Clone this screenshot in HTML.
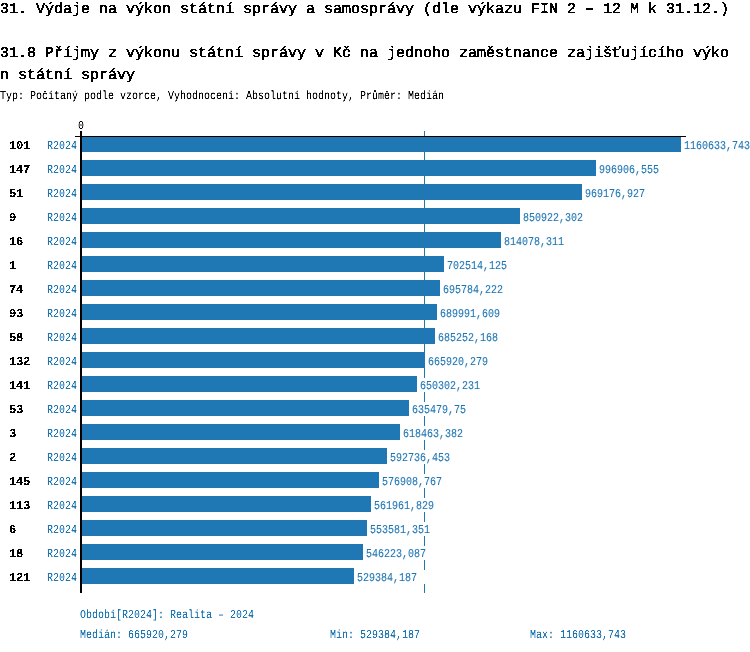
<!DOCTYPE html>
<html><head><meta charset="utf-8"><style>
html,body{margin:0;padding:0;background:#fff;width:750px;height:652px;overflow:hidden;position:relative}
body{font-family:"Liberation Mono",monospace;color:#000;text-rendering:geometricPrecision}
.w{position:absolute;left:0;top:0;width:750px;height:652px}
.wt{filter:url(#ft)}
.ws{filter:url(#fs)}
.wb{filter:url(#fb)}
.t{position:absolute;left:0;white-space:pre;font-weight:normal;-webkit-text-stroke:0.6px #000;font-size:15px;line-height:16px}
.sm{position:absolute;white-space:pre;font-size:12px;line-height:16px;transform:scaleX(0.83333);transform-origin:0 0;-webkit-text-stroke:0.1px currentColor}
.s{left:0}
.bar{position:absolute;left:80px;height:16px;background:#1f77b4}
.num{position:absolute;left:9px;font-weight:bold;font-size:12px;line-height:16px;white-space:pre;letter-spacing:-0.2px}
.per{left:47px;color:#1f77b4}
.val{color:#1f77b4;background:#fff;height:14px;padding-right:10px}
.axv{position:absolute;left:80px;top:131px;width:2px;height:462px;background:#000}
.axh{position:absolute;left:75px;top:136px;width:611px;height:1px;background:#000}
.med{position:absolute;left:424px;top:131px;width:1px;height:462px;background:#1f77b4}
.f{color:#1f77b4}
</style></head><body>
<svg width="0" height="0" style="position:absolute">
<filter id="ft" x="0" y="0" width="100%" height="100%"><feComponentTransfer><feFuncA type="discrete" tableValues="0 0 0 1 1"/></feComponentTransfer></filter>
<filter id="fs" x="0" y="0" width="100%" height="100%"><feComponentTransfer><feFuncA type="table" tableValues="0 0 0.5 1 1"/></feComponentTransfer></filter>
<filter id="fb" x="0" y="0" width="100%" height="100%"><feComponentTransfer><feFuncA type="discrete" tableValues="0 0 1 1 1"/></feComponentTransfer></filter>
</svg>
<div class="med"></div>
<div class="bar" style="top:136px;width:601px"></div>
<div class="bar" style="top:160px;width:516px"></div>
<div class="bar" style="top:184px;width:502px"></div>
<div class="bar" style="top:208px;width:440px"></div>
<div class="bar" style="top:232px;width:421px"></div>
<div class="bar" style="top:256px;width:364px"></div>
<div class="bar" style="top:280px;width:360px"></div>
<div class="bar" style="top:304px;width:357px"></div>
<div class="bar" style="top:328px;width:355px"></div>
<div class="bar" style="top:352px;width:345px"></div>
<div class="bar" style="top:376px;width:337px"></div>
<div class="bar" style="top:400px;width:329px"></div>
<div class="bar" style="top:424px;width:320px"></div>
<div class="bar" style="top:448px;width:307px"></div>
<div class="bar" style="top:472px;width:299px"></div>
<div class="bar" style="top:496px;width:291px"></div>
<div class="bar" style="top:520px;width:287px"></div>
<div class="bar" style="top:544px;width:283px"></div>
<div class="bar" style="top:568px;width:274px"></div>
<div class="w wt">
<div class="t" style="top:2px">31. Výdaje na výkon státní správy a samosprávy (dle výkazu FIN 2 – 12 M k 31.12.)</div>
<div class="t" style="top:46px">31.8 Příjmy z výkonu státní správy v Kč na jednoho zaměstnance zajišťujícího výko</div>
<div class="t" style="top:68px">n státní správy</div>
</div>
<div class="w wb">
<div class="num" style="top:138px">101</div>
<div class="num" style="top:162px">147</div>
<div class="num" style="top:186px">51</div>
<div class="num" style="top:210px">9</div>
<div class="num" style="top:234px">16</div>
<div class="num" style="top:258px">1</div>
<div class="num" style="top:282px">74</div>
<div class="num" style="top:306px">93</div>
<div class="num" style="top:330px">58</div>
<div class="num" style="top:354px">132</div>
<div class="num" style="top:378px">141</div>
<div class="num" style="top:402px">53</div>
<div class="num" style="top:426px">3</div>
<div class="num" style="top:450px">2</div>
<div class="num" style="top:474px">145</div>
<div class="num" style="top:498px">113</div>
<div class="num" style="top:522px">6</div>
<div class="num" style="top:546px">18</div>
<div class="num" style="top:570px">121</div>
</div>
<div class="w ws">
<div class="sm s" style="top:88px">Typ: Počítaný podle vzorce, Vyhodnocení: Absolutní hodnoty, Průměr: Medián</div>
<div class="sm" style="top:118px;left:78px">0</div>
<div class="sm per" style="top:138px">R2024</div>
<div class="sm val" style="top:138px;left:684px">1160633,743</div>
<div class="sm per" style="top:162px">R2024</div>
<div class="sm val" style="top:162px;left:599px">996906,555</div>
<div class="sm per" style="top:186px">R2024</div>
<div class="sm val" style="top:186px;left:585px">969176,927</div>
<div class="sm per" style="top:210px">R2024</div>
<div class="sm val" style="top:210px;left:523px">850922,302</div>
<div class="sm per" style="top:234px">R2024</div>
<div class="sm val" style="top:234px;left:504px">814078,311</div>
<div class="sm per" style="top:258px">R2024</div>
<div class="sm val" style="top:258px;left:447px">702514,125</div>
<div class="sm per" style="top:282px">R2024</div>
<div class="sm val" style="top:282px;left:443px">695784,222</div>
<div class="sm per" style="top:306px">R2024</div>
<div class="sm val" style="top:306px;left:440px">689991,609</div>
<div class="sm per" style="top:330px">R2024</div>
<div class="sm val" style="top:330px;left:438px">685252,168</div>
<div class="sm per" style="top:354px">R2024</div>
<div class="sm val" style="top:354px;left:428px">665920,279</div>
<div class="sm per" style="top:378px">R2024</div>
<div class="sm val" style="top:378px;left:420px">650302,231</div>
<div class="sm per" style="top:402px">R2024</div>
<div class="sm val" style="top:402px;left:412px">635479,75</div>
<div class="sm per" style="top:426px">R2024</div>
<div class="sm val" style="top:426px;left:403px">618463,382</div>
<div class="sm per" style="top:450px">R2024</div>
<div class="sm val" style="top:450px;left:390px">592736,453</div>
<div class="sm per" style="top:474px">R2024</div>
<div class="sm val" style="top:474px;left:382px">576908,767</div>
<div class="sm per" style="top:498px">R2024</div>
<div class="sm val" style="top:498px;left:374px">561961,829</div>
<div class="sm per" style="top:522px">R2024</div>
<div class="sm val" style="top:522px;left:370px">553581,351</div>
<div class="sm per" style="top:546px">R2024</div>
<div class="sm val" style="top:546px;left:366px">546223,087</div>
<div class="sm per" style="top:570px">R2024</div>
<div class="sm val" style="top:570px;left:357px">529384,187</div>
<div class="sm f" style="top:607px;left:80px">Období[R2024]: Realita – 2024</div>
<div class="sm f" style="top:627px;left:80px">Medián: 665920,279</div>
<div class="sm f" style="top:627px;left:330px">Min: 529384,187</div>
<div class="sm f" style="top:627px;left:530px">Max: 1160633,743</div>
</div>
<div class="axv"></div>
<div class="axh"></div>
</body></html>
